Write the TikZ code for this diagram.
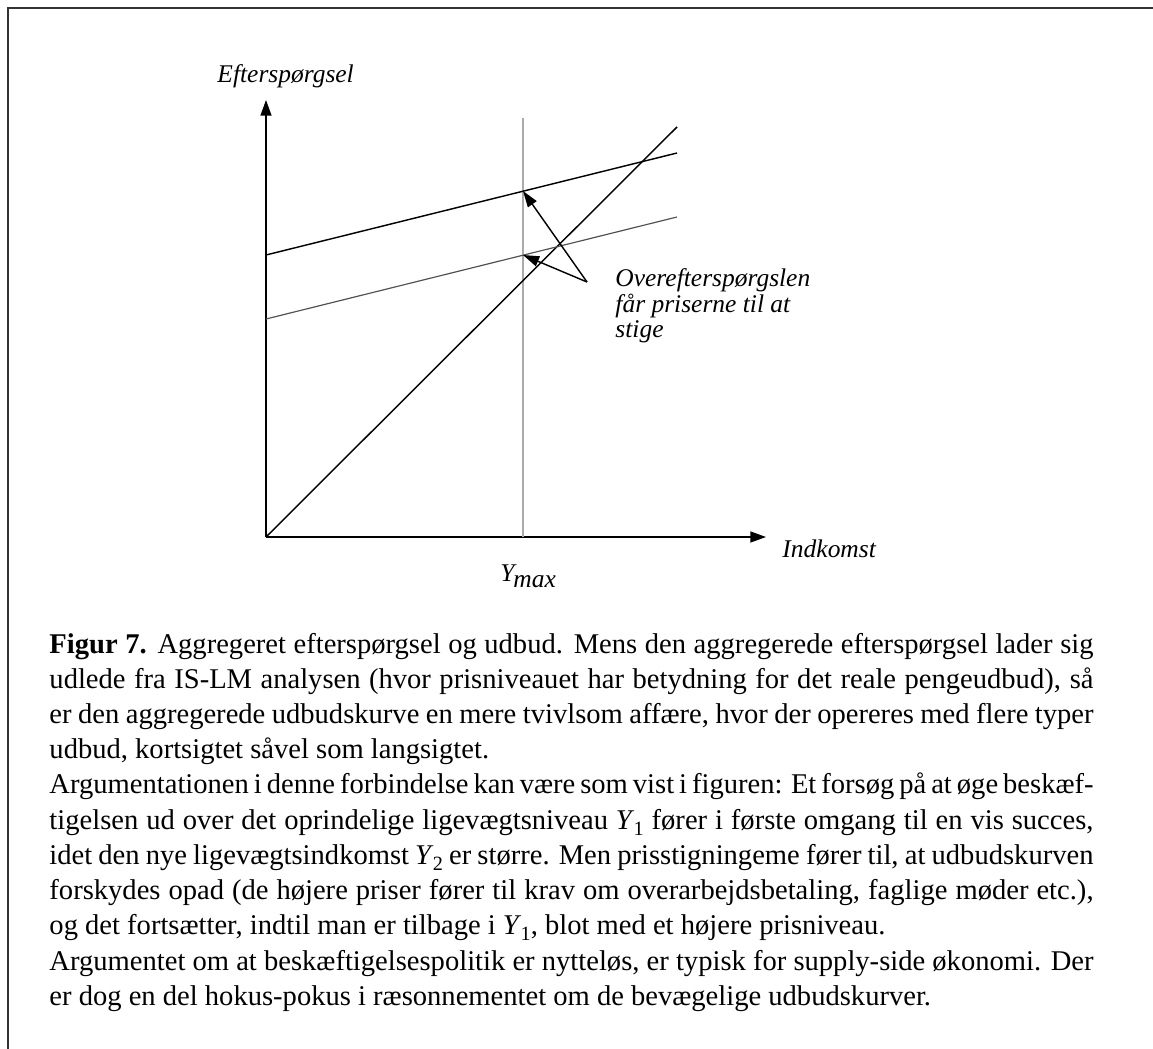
\documentclass[tikz,border=0pt]{standalone}
\usepackage{fontspec}
\setmainfont{Liberation Serif}
\usetikzlibrary{arrows.meta}
\newcommand\Ysb[1]{\textit{Y}\kern-0.3pt\raisebox{-0.45ex}{\fontsize{8.5}{8.5}\selectfont #1}}
\begin{document}
\begin{tikzpicture}[x=0.42pt,y=-0.42pt,
  axis/.style={line width=0.7pt,-{Triangle[length=6.6pt,width=4.6pt]}},
  curve/.style={line width=0.6pt},
  greycurve/.style={line width=0.5pt,draw=black!68},
  guide/.style={line width=0.55pt,draw=black!33},
  pointer/.style={line width=0.6pt,-{Triangle[length=6.8pt,width=4.4pt]}},
  lbl/.style={font=\fontsize{10.7}{10.9}\selectfont\itshape,inner sep=0pt},
  frame/.style={line width=0.85pt,draw=black!80}]
\useasboundingbox (0,0) rectangle (1153,1049);
% frame
\coordinate (fTL) at (8,8);
\coordinate (fTR) at (1153,8);
\coordinate (fBL) at (8,1049);
\draw[frame] (fBL) -- (fTL) -- (fTR);
% axes
\coordinate (O) at (266,537);
\coordinate (ytip) at (266,100);
\coordinate (xtip) at (766,537);
\draw[axis] (O) -- (ytip);
\draw[axis] (O) -- (xtip);
% guide line at Ymax
\coordinate (gtop) at (523,118);
\coordinate (gbot) at (523,537);
\draw[guide] (gbot) -- (gtop);
% 45 degree line
\coordinate (dend) at (677,127);
\draw[curve] (O) -- (dend);
% demand curves
\coordinate (u0) at (266,255);
\coordinate (u1) at (677,153);
\coordinate (l0) at (266,319);
\coordinate (l1) at (677,217);
\draw[curve] (u0) -- (u1);
\draw[greycurve] (l0) -- (l1);
% pointer arrows
\coordinate (pA) at (587,282);
\coordinate (pU) at (523,191);
\coordinate (pL) at (523,255);
\draw[pointer] (pA) -- (pU);
\draw[pointer] (pA) -- (pL);
% labels
\node[lbl,anchor=base west] (ylab) at (217,83) {Efterspørgsel};
\node[lbl,anchor=base west] (xlab) at (782,557) {Indkomst};
\node[lbl,anchor=base west] (ymax) at (500,581) {Y\kern-0.5pt\raisebox{-0.55ex}{max}};
\node[lbl,anchor=base west,align=left] (note) at (615,338) {Overefterspørgslen\\får priserne til at\\stige};
% caption
\node[anchor=base west,inner sep=0pt,text width=438.5pt,align=justify,
  font=\fontsize{12}{14.8}\selectfont] (cap) at (49,653) {%
\hyphenpenalty=10000\exhyphenpenalty=10000\tolerance=10000\parindent=0pt%
\textbf{Figur 7.} Aggregeret efterspørgsel og udbud. Mens den aggregerede efterspørgsel lader sig\linebreak
udlede fra IS-LM analysen (hvor prisniveauet har betydning for det reale pengeudbud), så\linebreak
er den aggregerede udbudskurve en mere tvivlsom affære, hvor der opereres med flere typer\linebreak
udbud, kortsigtet såvel som langsigtet.\par
Argumentationen i denne forbindelse kan være som vist i figuren: Et forsøg på at øge beskæf-\linebreak
tigelsen ud over det oprindelige ligevægtsniveau \Ysb{1} fører i første omgang til en vis succes,\linebreak
idet den nye ligevægtsindkomst \Ysb{2} er større. Men prisstigningeme fører til, at udbudskurven\linebreak
forskydes opad (de højere priser fører til krav om overarbejdsbetaling, faglige møder etc.),\linebreak
og det fortsætter, indtil man er tilbage i \Ysb{1}, blot med et højere prisniveau.\par
Argumentet om at beskæftigelsespolitik er nytteløs, er typisk for supply-side økonomi. Der\linebreak
er dog en del hokus-pokus i ræsonnementet om de bevægelige udbudskurver.\par};
\end{tikzpicture}
\end{document}
